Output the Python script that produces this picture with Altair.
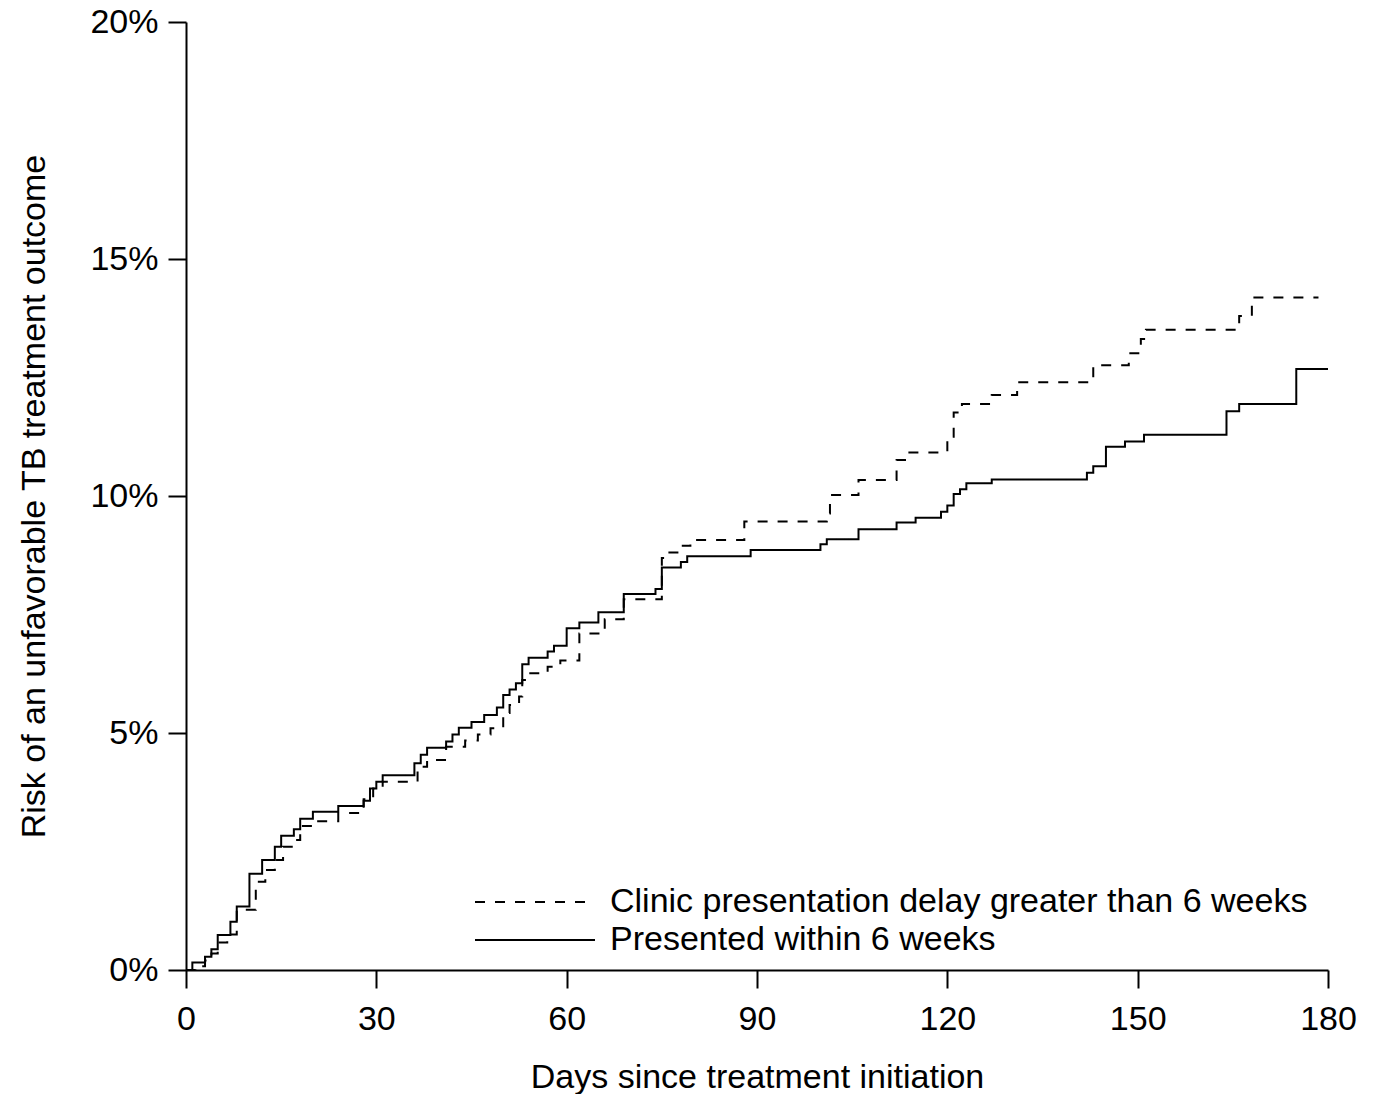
import altair as alt
import pandas as pd

# ---- data ----
series_labels = ["Clinic presentation delay greater than 6 weeks", "Presented within 6 weeks"]
x_ticks = [0, 30, 60, 90, 120, 150, 180]
y_ticks = [0, 5, 10, 15, 20]

# Presented within 6 weeks (solid)
solid_days = [0, 1, 3, 4, 5, 7, 8, 10, 12, 14, 15, 17, 18, 20, 24, 28, 29, 30, 31, 36, 37, 38,
              41, 42, 43, 45, 47, 49, 50, 51, 52, 53, 54, 57, 58, 60, 62, 65, 69, 74, 75, 78, 79,
              89, 100, 101, 106, 112, 115, 119, 120, 121, 122, 123, 127, 142, 143, 145, 148, 151,
              164, 166, 175, 180]
solid_risk = [0, 0.16, 0.28, 0.44, 0.74, 1.02, 1.34, 2.03, 2.32, 2.60, 2.83, 2.97, 3.19, 3.34, 3.46,
              3.57, 3.83, 3.97, 4.11, 4.36, 4.54, 4.69, 4.82, 4.97, 5.11, 5.23, 5.38, 5.54, 5.80,
              5.92, 6.05, 6.45, 6.59, 6.72, 6.84, 7.21, 7.33, 7.55, 7.93, 8.04, 8.49, 8.61, 8.73,
              8.86, 8.98, 9.09, 9.30, 9.44, 9.54, 9.67, 9.80, 10.04, 10.14, 10.27, 10.35, 10.49,
              10.63, 11.04, 11.15, 11.29, 11.79, 11.94, 12.68, 12.68]

# Clinic presentation delay greater than 6 weeks (dashed)
dashed_days = [0, 1.5, 3, 4, 5, 6.5, 8, 11, 12.5, 14, 15.3, 17, 18, 20, 24, 28, 29.5, 31, 36.5, 38,
               41, 44, 46, 48, 50, 51, 52.5, 53, 54, 57, 59, 62, 66, 69, 75, 76, 78, 79.5, 88, 101,
               101.5, 106, 112, 113.5, 120, 121, 122.3, 127, 131, 143, 148.6, 150.5, 151.3, 166,
               168, 178.5]
dashed_risk = [0, 0.08, 0.20, 0.35, 0.58, 0.75, 1.27, 1.86, 2.11, 2.32, 2.60, 2.74, 3.04, 3.14, 3.31,
               3.60, 3.83, 3.97, 4.29, 4.43, 4.71, 4.84, 4.97, 5.10, 5.42, 5.59, 5.77, 6.12, 6.26,
               6.40, 6.53, 7.10, 7.40, 7.82, 8.69, 8.81, 8.95, 9.07, 9.46, 9.63, 10.02, 10.34,
               10.76, 10.92, 11.25, 11.76, 11.94, 12.13, 12.40, 12.76, 13.01, 13.31, 13.51, 13.80,
               14.19, 14.19]

df = pd.concat([
    pd.DataFrame({"day": dashed_days, "risk": dashed_risk, "group": series_labels[0]}),
    pd.DataFrame({"day": solid_days, "risk": solid_risk, "group": series_labels[1]}),
], ignore_index=True)

FONT = "Liberation Sans"
FS = 34
TOP = 14
W, H = 1142, 962 - TOP

lines = alt.Chart(df).mark_line(interpolate="step-after", strokeWidth=2, color="black").encode(
    x=alt.X("day:Q",
            scale=alt.Scale(domain=[0, 180], nice=False, zero=False),
            axis=alt.Axis(values=x_ticks, title="Days since treatment initiation",
                          labelPadding=14, labelFlush=False, labelOverlap=False,
                          titleX=W / 2, titleY=117, titleBaseline="alphabetic",
                          titleAlign="center")),
    y=alt.Y("risk:Q",
            scale=alt.Scale(domain=[0, 20], nice=False),
            axis=alt.Axis(values=y_ticks, labelExpr="datum.value + '%'",
                          title="Risk of an unfavorable TB treatment outcome",
                          labelPadding=10, labelOverlap=False, labelFlush=False,
                          titleX=-142, titleY=H / 2, titleAngle=-90,
                          titleBaseline="alphabetic", titleAlign="center")),
    strokeDash=alt.StrokeDash("group:N",
                              scale=alt.Scale(domain=series_labels, range=[[10, 10], [1, 0]]),
                              legend=None),
    detail="group:N",
)

leg0 = pd.DataFrame({"label": [series_labels[0]]})
leg1 = pd.DataFrame({"label": [series_labels[1]]})

y0 = 902 - 8 - TOP
y1 = 940 - 8 - TOP

rule0 = alt.Chart(leg0).mark_rule(color="black", strokeWidth=2, strokeDash=[10, 10]).encode(
    x=alt.value(289), x2=alt.value(409), y=alt.value(y0))
rule1 = alt.Chart(leg1).mark_rule(color="black", strokeWidth=2).encode(
    x=alt.value(289), x2=alt.value(409), y=alt.value(y1))
text0 = alt.Chart(leg0).mark_text(align="left", baseline="middle", font=FONT, fontSize=FS,
                                  color="black").encode(
    x=alt.value(424), y=alt.value(y0), text="label:N")
text1 = alt.Chart(leg1).mark_text(align="left", baseline="middle", font=FONT, fontSize=FS,
                                  color="black").encode(
    x=alt.value(424), y=alt.value(y1), text="label:N")

chart = alt.layer(lines, rule0, rule1, text0, text1).properties(
    width=W, height=H,
    padding={"left": 178, "top": TOP, "right": 40, "bottom": 124},
    autosize=alt.AutoSizeParams(type="none"),
    background="white",
).configure_view(stroke=None).configure_axis(
    grid=False,
    domainColor="black", domainWidth=2,
    tickColor="black", tickWidth=2, tickSize=18,
    labelFont=FONT, labelFontSize=FS, labelColor="black",
    titleFont=FONT, titleFontSize=FS, titleFontWeight="normal", titleColor="black",
)

chart.save("out.html", embed_options={"renderer": "svg", "actions": False})
